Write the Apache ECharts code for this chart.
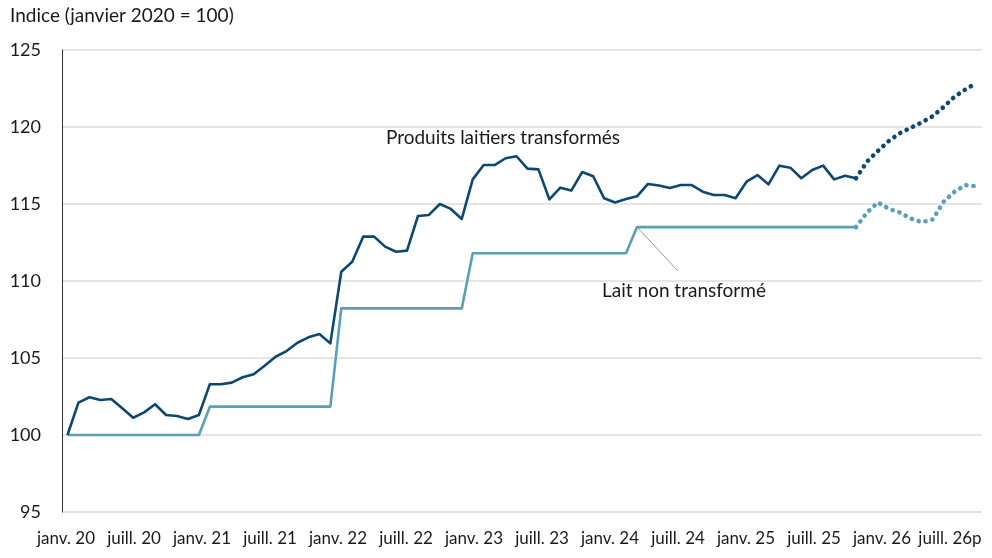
<!DOCTYPE html>
<html>
<head>
<meta charset="utf-8">
<script src="https://cdn.jsdelivr.net/npm/echarts@6/dist/echarts.min.js"></script>
<style>
html,body{margin:0;padding:0;background:#fff;}
#c{width:992px;height:558px;}
</style>
</head>
<body>
<div id="c"></div>
<script>
// Monthly categories: janv. 2020 to déc. 2026
const startYear = 2020, nMonths = 84;
const categories = [];
for (let i = 0; i < nMonths; i++) {
  const y = startYear + Math.floor(i / 12), m = (i % 12) + 1;
  categories.push(y + '-' + (m < 10 ? '0' + m : m));
}
const xLabels = ['janv. 20','juill. 20','janv. 21','juill. 21','janv. 22','juill. 22','janv. 23','juill. 23','janv. 24','juill. 24','janv. 25','juill. 25','janv. 26','juill. 26p'];
const yTicks = [95, 100, 105, 110, 115, 120, 125];

// Produits laitiers transformés (observed, janv. 2020 - janv. 2026)
const processedActual = [
  100.0, 102.1, 102.45, 102.27, 102.34, 101.73, 101.12, 101.47, 102.0, 101.3, 101.23, 101.04,
  101.3, 103.3, 103.3, 103.4, 103.75, 103.95, 104.5, 105.08, 105.45, 105.99, 106.34, 106.56,
  105.95, 110.6, 111.25, 112.88, 112.88, 112.23, 111.9, 111.97, 114.22, 114.29, 115.0, 114.68,
  114.03, 116.6, 117.53, 117.53, 117.97, 118.1, 117.3, 117.25, 115.3, 116.06, 115.87, 117.08,
  116.8, 115.37, 115.1, 115.32, 115.5, 116.3, 116.2, 116.04, 116.23, 116.23, 115.8, 115.58,
  115.58, 115.37, 116.45, 116.88, 116.28, 117.49, 117.36, 116.67, 117.21, 117.49, 116.6, 116.84,
  116.67
];
// Produits laitiers transformés (prévision, janv. 2026 - déc. 2026)
const processedForecast = [116.67, 117.75, 118.45, 119.1, 119.6, 119.95, 120.3, 120.7, 121.3, 121.97, 122.45, 122.85];

// Lait non transformé (observed)
const rawActual = [
  100, 100, 100, 100, 100, 100, 100, 100, 100, 100, 100, 100,
  100, 101.84, 101.84, 101.84, 101.84, 101.84, 101.84, 101.84, 101.84, 101.84, 101.84, 101.84,
  101.84, 108.22, 108.22, 108.22, 108.22, 108.22, 108.22, 108.22, 108.22, 108.22, 108.22, 108.22,
  108.22, 111.8, 111.8, 111.8, 111.8, 111.8, 111.8, 111.8, 111.8, 111.8, 111.8, 111.8,
  111.8, 111.8, 111.8, 111.8, 113.5, 113.5, 113.5, 113.5, 113.5, 113.5, 113.5, 113.5,
  113.5, 113.5, 113.5, 113.5, 113.5, 113.5, 113.5, 113.5, 113.5, 113.5, 113.5, 113.5,
  113.5
];
// Lait non transformé (prévision)
const rawForecast = [113.5, 114.45, 115.1, 114.68, 114.45, 114.05, 113.82, 114.0, 115.15, 115.8, 116.23, 116.15];

const seriesNames = ['Produits laitiers transformés', 'Lait non transformé'];

const darkColor = '#0c4872';
const lightColor = '#5a9fb8';
const FONT = 'Lato';
const TXT = '#1a1a1a';

function pad(values, offset) {
  const out = new Array(nMonths).fill('-');
  values.forEach((v, i) => { out[offset + i] = v; });
  return out;
}
const fcOffset = processedActual.length - 1;

const chart = echarts.init(document.getElementById('c'), null, {renderer: 'canvas'});
chart.setOption({
  animation: false,
  backgroundColor: '#fff',
  textStyle: {fontFamily: FONT},
  grid: [
    {left: 62, right: 10, top: 50, bottom: 46, containLabel: false},
    {left: 66, right: 42, top: 50, bottom: 46, containLabel: false}
  ],
  xAxis: [
    {
      type: 'category', gridIndex: 0, data: categories, boundaryGap: true,
      axisLine: {show: false}, axisTick: {show: false}, axisLabel: {show: false},
      splitLine: {show: false}
    },
    {
      type: 'category', gridIndex: 1, data: xLabels, boundaryGap: false,
      axisLine: {show: false}, axisTick: {show: false},
      axisLabel: {show: true, interval: 0, color: TXT, fontFamily: FONT, fontSize: 17, margin: 18},
      splitLine: {show: false}
    }
  ],
  yAxis: [
    {
      type: 'value', gridIndex: 0, min: yTicks[0], max: yTicks[yTicks.length - 1], interval: 5,
      axisLine: {show: true, lineStyle: {color: '#333', width: 1}},
      axisTick: {show: false},
      axisLabel: {color: TXT, fontFamily: FONT, fontSize: 18, margin: 21},
      splitLine: {show: true, lineStyle: {color: '#dcdcdc', width: 1.5}}
    },
    {type: 'value', gridIndex: 1, min: 0, max: 1, show: false}
  ],
  series: [
    {
      name: seriesNames[0], type: 'line', xAxisIndex: 0, yAxisIndex: 0,
      data: pad(processedActual, 0), showSymbol: false, symbol: 'none',
      lineStyle: {color: darkColor, width: 2.6, join: 'round'}, z: 3
    },
    {
      name: seriesNames[1], type: 'line', xAxisIndex: 0, yAxisIndex: 0,
      data: pad(rawActual, 0), showSymbol: false, symbol: 'none',
      lineStyle: {color: lightColor, width: 2.6, join: 'round'}, z: 2
    },
    {
      name: seriesNames[0] + ' (p)', type: 'line', xAxisIndex: 0, yAxisIndex: 0,
      data: pad(processedForecast, fcOffset), showSymbol: false, symbol: 'none', smooth: false,
      lineStyle: {color: darkColor, width: 4.6, type: [0.1, 7], cap: 'round'}, z: 3
    },
    {
      name: seriesNames[1] + ' (p)', type: 'line', xAxisIndex: 0, yAxisIndex: 0,
      data: pad(rawForecast, fcOffset), showSymbol: false, symbol: 'none',
      lineStyle: {color: lightColor, width: 4.6, type: [0.1, 7], cap: 'round'}, z: 2
    }
  ]
});

// annotations
const anchorIdx = 52;
const anchor = chart.convertToPixel({xAxisIndex: 0, yAxisIndex: 0}, [anchorIdx, rawActual[anchorIdx]]);
chart.setOption({
  graphic: [
    {type: 'text', left: 10, top: 6, style: {text: 'Indice (janvier 2020 = 100)', fill: TXT, font: '19px ' + FONT}},
    {type: 'text', x: 503, y: 138, style: {text: seriesNames[0], fill: TXT, font: '19px ' + FONT, align: 'center', verticalAlign: 'middle'}},
    {type: 'line', shape: {x1: anchor[0], y1: anchor[1], x2: 678, y2: 271}, style: {stroke: '#999', lineWidth: 1}, z: 1},
    {type: 'text', x: 684, y: 291, style: {text: seriesNames[1], fill: TXT, font: '19px ' + FONT, align: 'center', verticalAlign: 'middle'}}
  ]
});
</script>
</body>
</html>
